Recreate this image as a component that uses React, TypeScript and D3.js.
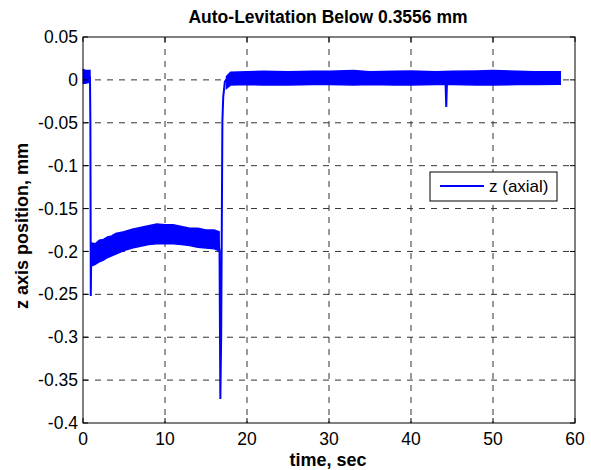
import React, { useEffect, useRef } from "react";
import * as d3 from "d3";

const W = 591, H = 470;
const margin = { top: 37, right: 16, bottom: 47, left: 83 };

const xTicks = [0, 10, 20, 30, 40, 50, 60];
const yTicks = [0.05, 0, -0.05, -0.1, -0.15, -0.2, -0.25, -0.3, -0.35, -0.4];

// noisy band envelopes (upper / lower)
const startT = [0.05, 0.3, 0.6, 0.85];
const startHi = [0.012, 0.011, 0.011, 0.011];
const startLo = [-0.004, -0.004, -0.003, -0.003];

const midT = [1.0, 1.5, 2, 2.5, 3, 3.5, 4, 5, 6, 7, 8, 9, 10, 11, 12, 13, 14, 15, 16, 16.6];
const midHi = [-0.19, -0.191, -0.187, -0.186, -0.183, -0.182, -0.179, -0.177, -0.174, -0.172, -0.17, -0.168, -0.169, -0.169, -0.171, -0.173, -0.173, -0.175, -0.175, -0.177];
const midLo = [-0.217, -0.215, -0.212, -0.21, -0.207, -0.205, -0.203, -0.199, -0.196, -0.194, -0.192, -0.191, -0.191, -0.191, -0.192, -0.193, -0.195, -0.196, -0.197, -0.199];

const endT = [17.5, 18, 20, 22, 25, 28, 30, 33, 35, 38, 40, 43, 45, 48, 50, 53, 55, 58.2];
const endHi = [0.004, 0.009, 0.0095, 0.01, 0.0095, 0.01, 0.01, 0.011, 0.0095, 0.01, 0.0105, 0.0095, 0.01, 0.0105, 0.011, 0.01, 0.0095, 0.0095];
const endLo = [-0.01, -0.006, -0.0055, -0.006, -0.006, -0.0055, -0.0055, -0.006, -0.0055, -0.006, -0.006, -0.0055, -0.0055, -0.006, -0.006, -0.0055, -0.0055, -0.005];

// transient strokes of the trace
const jumpT = [0.85, 0.9, 0.95, 1.0, 1.05];
const jumpZ = [0.004, -0.05, -0.252, -0.205, -0.2];
const dropT = [16.5, 16.65, 16.75, 16.85, 17.0, 17.1, 17.3, 17.6, 18];
const dropZ = [-0.186, -0.2, -0.372, -0.3, -0.048, -0.02, -0.002, 0.002, 0.002];
const spikeT = [44.2, 44.3, 44.4];
const spikeZ = [0.002, -0.0315, 0.002];

export default function App() {
  const ref = useRef<SVGSVGElement>(null);

  useEffect(() => {
    const svg = d3.select(ref.current);
    svg.selectAll("*").remove();
    const iw = W - margin.left - margin.right;
    const ih = H - margin.top - margin.bottom;
    const x = d3.scaleLinear().domain([0, 60]).range([0, iw]);
    const y = d3.scaleLinear().domain([-0.4, 0.05]).range([ih, 0]);
    const font = "'Liberation Sans', Arial, Helvetica, sans-serif";

    svg.append("rect").attr("width", W).attr("height", H).attr("fill", "#fff");
    const g = svg.append("g").attr("transform", `translate(${margin.left},${margin.top})`);

    // grid
    g.append("g").selectAll("line").data(xTicks.slice(1, -1)).join("line")
      .attr("x1", d => x(d)).attr("x2", d => x(d)).attr("y1", 0).attr("y2", ih)
      .attr("stroke", "#333").attr("stroke-dasharray", "6,6");
    g.append("g").selectAll("line").data(yTicks.slice(1, -1)).join("line")
      .attr("y1", d => y(d)).attr("y2", d => y(d)).attr("x1", 0).attr("x2", iw)
      .attr("stroke", "#333").attr("stroke-dasharray", "6,6");

    const blue = "#0000ff";
    const bands = [
      [startT, startHi, startLo],
      [midT, midHi, midLo],
      [endT, endHi, endLo],
    ];
    bands.forEach(([ts, hi, lo]) => {
      const idx = ts.map((_, i) => i);
      g.append("path")
        .attr("d", d3.area<number>().x(i => x(ts[i])).y0(i => y(lo[i])).y1(i => y(hi[i]))(idx))
        .attr("fill", blue).attr("stroke", blue).attr("stroke-width", 1.5);
    });
    const line = d3.line<number>();
    [[jumpT, jumpZ], [dropT, dropZ], [spikeT, spikeZ]].forEach(([ts, zs]) => {
      g.append("path")
        .attr("d", line(ts.map((t, i) => [x(t), y(zs[i])] as [number, number])))
        .attr("fill", "none").attr("stroke", blue).attr("stroke-width", 2);
    });

    // box and ticks
    g.append("rect").attr("width", iw).attr("height", ih)
      .attr("fill", "none").attr("stroke", "#000");
    const tl = 5;
    xTicks.forEach(t => {
      g.append("line").attr("x1", x(t)).attr("x2", x(t)).attr("y1", ih).attr("y2", ih - tl).attr("stroke", "#000");
      g.append("line").attr("x1", x(t)).attr("x2", x(t)).attr("y1", 0).attr("y2", tl).attr("stroke", "#000");
      g.append("text").attr("x", x(t)).attr("y", ih + 22).attr("text-anchor", "middle")
        .attr("font-family", font).attr("font-size", 17.5).text(String(t));
    });
    yTicks.forEach(t => {
      g.append("line").attr("y1", y(t)).attr("y2", y(t)).attr("x1", 0).attr("x2", tl).attr("stroke", "#000");
      g.append("line").attr("y1", y(t)).attr("y2", y(t)).attr("x1", iw).attr("x2", iw - tl).attr("stroke", "#000");
      g.append("text").attr("x", -5).attr("y", y(t)).attr("dy", "0.35em").attr("text-anchor", "end")
        .attr("font-family", font).attr("font-size", 17.5).text(t === 0 ? "0" : String(t));
    });

    // labels
    svg.append("text").attr("x", 328).attr("y", 23).attr("text-anchor", "middle")
      .attr("font-family", font).attr("font-weight", "bold").attr("font-size", 17.5)
      .text("Auto-Levitation Below 0.3556 mm");
    svg.append("text").attr("x", 328).attr("y", 466).attr("text-anchor", "middle")
      .attr("font-family", font).attr("font-weight", "bold").attr("font-size", 18)
      .text("time, sec");
    svg.append("text").attr("transform", `translate(28,226) rotate(-90)`)
      .attr("text-anchor", "middle")
      .attr("font-family", font).attr("font-weight", "bold").attr("font-size", 18)
      .text("z axis position, mm");

    // legend
    const lg = svg.append("g").attr("transform", "translate(430,172)");
    lg.append("rect").attr("width", 127).attr("height", 29).attr("fill", "#fff").attr("stroke", "#000");
    lg.append("line").attr("x1", 10).attr("x2", 54).attr("y1", 14).attr("y2", 14)
      .attr("stroke", blue).attr("stroke-width", 2);
    lg.append("text").attr("x", 59).attr("y", 14).attr("dy", "0.35em")
      .attr("font-family", font).attr("font-size", 17).text("z (axial)");
  }, []);

  return <svg ref={ref} width={W} height={H} style={{ display: "block", position: "absolute", left: 0, top: 0 }} />;
}
